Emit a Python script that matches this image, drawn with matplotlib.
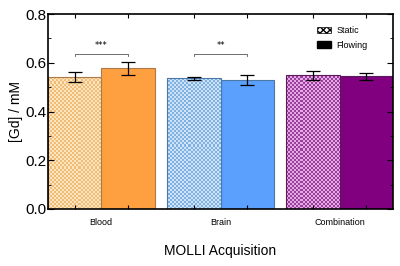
import matplotlib.pyplot as plt
import numpy as np
from matplotlib.patches import Patch
from matplotlib.colors import ListedColormap

categories = ['Blood', 'Brain', 'Combination']
static_vals = [0.542, 0.536, 0.548]
static_err = [0.020, 0.005, 0.018]
flowing_vals = [0.577, 0.529, 0.544]
flowing_err = [0.026, 0.022, 0.015]
static_light = ['#fce4bd', '#cfe3f7', '#e6a8e6']
static_dark = ['#f0bd78', '#7fb1e3', '#99409a']
flowing_cols = ['#ffa040', '#5aa0fc', '#800080']
edge_cols = ['#a87a4c', '#4a78a8', '#5a1a5a']
sig_pairs = [(0, '***'), (1, '**')]

w = 0.447
x = np.arange(len(categories))

fig = plt.figure(figsize=(4, 2.66), dpi=100)
ax = fig.add_axes([0.12, 0.2143, 0.8625, 0.7327])
ax.set_xlim(-w, 2 + w)
ax.set_ylim(0, 0.8)

sb = ax.bar(x - w / 2, static_vals, w, color=static_light, edgecolor=edge_cols, linewidth=0.8)
fb = ax.bar(x + w / 2, flowing_vals, w, color=flowing_cols, edgecolor=edge_cols, linewidth=0.8)

# checkerboard texture (2px cells) for the static bars
nx, ny = 172, 97
ii, jj = np.meshgrid(np.arange(nx), np.arange(ny))
checker = ((ii + jj) % 2).astype(float)
for i, b in enumerate(sb):
    cm = ListedColormap([static_light[i], static_dark[i]])
    im = ax.imshow(checker, cmap=cm, extent=(-w, 2 + w, 0, 0.8), aspect='auto',
                   interpolation='nearest', zorder=1.5)
    im.set_clip_path(b)
    b.set_zorder(2)
    b.set_facecolor('none')

ax.errorbar(x - w / 2, static_vals, yerr=static_err, fmt='none', ecolor='black',
            elinewidth=0.9, capsize=5, capthick=0.9, zorder=3)
ax.errorbar(x + w / 2, flowing_vals, yerr=flowing_err, fmt='none', ecolor='black',
            elinewidth=0.9, capsize=5, capthick=0.9, zorder=3)

for g, star in sig_pairs:
    y = 0.638
    ax.plot([g - w / 2, g - w / 2, g + w / 2, g + w / 2], [y - 0.008, y, y, y - 0.008],
            color='#555555', lw=0.6)
    ax.text(g, y + 0.035, star, ha='center', va='center', fontsize=6)

ax.set_xlim(-w, 2 + w)
ax.set_ylim(0, 0.8)
ax.set_yticks([0, 0.2, 0.4, 0.6, 0.8])
ax.set_yticks([0.1, 0.3, 0.5, 0.7], minor=True)
ax.set_yticklabels(['0.0', '0.2', '0.4', '0.6', '0.8'], fontsize=11, family='Liberation Sans')
ax.set_xticks(np.concatenate([x - w / 2, x + w / 2]))
ax.set_xticklabels([])
for i, c in enumerate(categories):
    ax.text(x[i], -0.035, c, ha='center', va='top', fontsize=6.5, family='Liberation Sans')
ax.tick_params(axis='x', top=True, length=3, width=0.8)
ax.tick_params(axis='y', which='major', length=4, width=0.8, pad=1)
ax.tick_params(axis='y', which='minor', length=2, width=0.6)
ax.tick_params(right=True, which='both', direction='in')
for s in ax.spines.values():
    s.set_linewidth(1.2)

ax.set_ylabel('[Gd] / mM', fontsize=10, family='Liberation Sans', labelpad=2)
ax.set_xlabel('MOLLI Acquisition', fontsize=10, family='Liberation Sans', labelpad=22)

handles = [Patch(facecolor='white', edgecolor='black', hatch='xxxxx', lw=0.5, label='Static'),
           Patch(facecolor='black', edgecolor='black', label='Flowing')]
ax.legend(handles=handles, loc='upper right', frameon=False,
          handlelength=1.6, handleheight=0.7, handletextpad=0.6, labelspacing=0.6,
          bbox_to_anchor=(0.95, 0.98),
          prop={'family': 'Liberation Sans', 'size': 6.5})

plt.savefig('out.png', dpi=100)
